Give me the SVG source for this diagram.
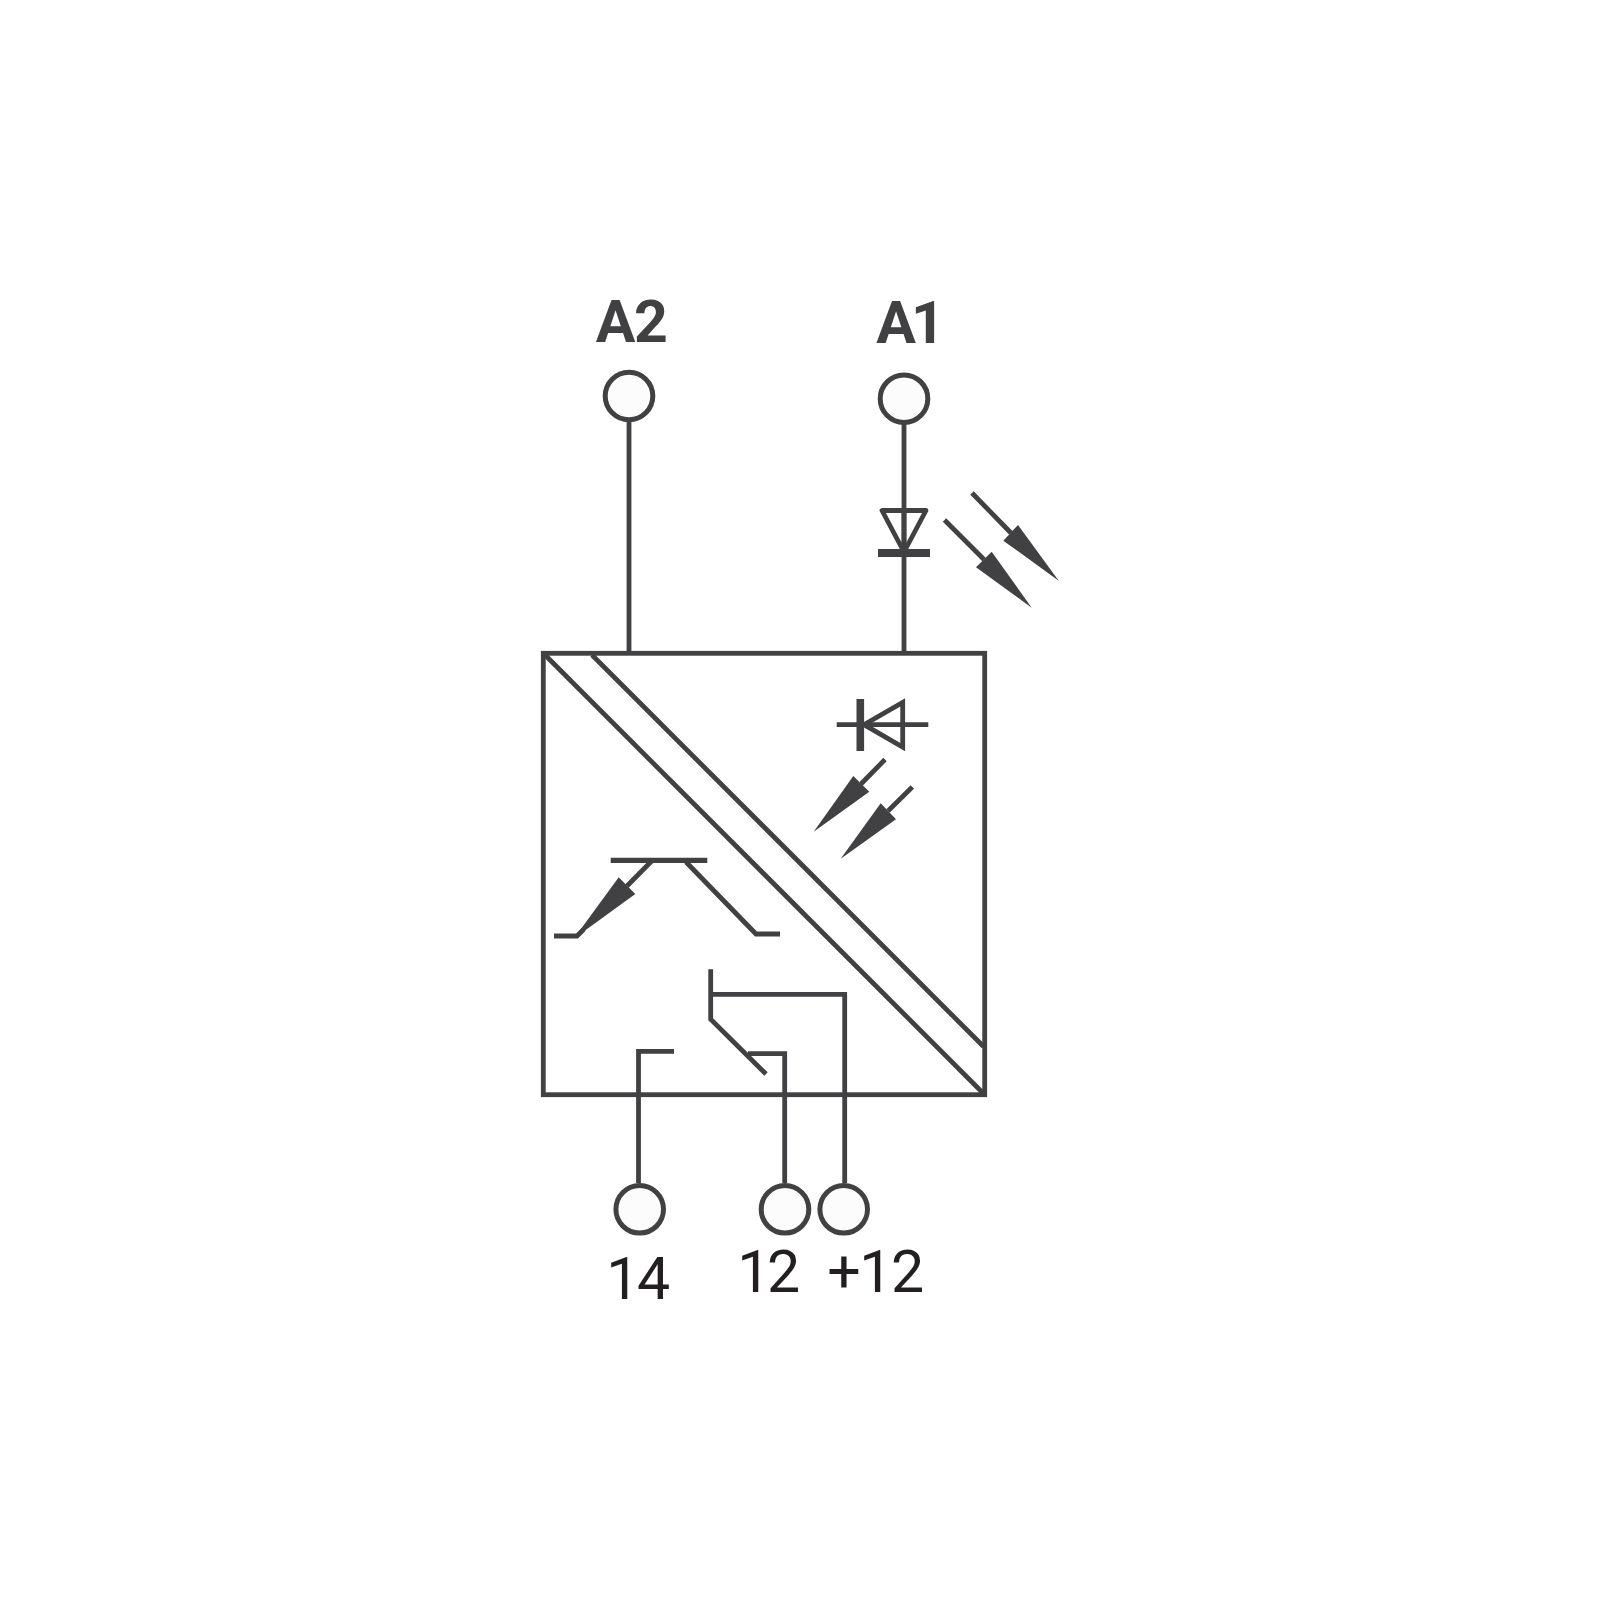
<svg xmlns="http://www.w3.org/2000/svg" width="1600" height="1600" viewBox="0 0 1600 1600">
<style>
.l{fill:none;stroke:#414042;stroke-width:4.8;stroke-linejoin:miter}
.h{fill:#414042;stroke:none}
.t{fill:#fcfcfc;stroke:#414042;stroke-width:5}
.b{font-family:Roboto,"Liberation Sans",Arial,sans-serif;font-weight:700;font-size:59px;fill:#414042;text-anchor:middle}
.n{font-family:Roboto,"Liberation Sans",Arial,sans-serif;font-size:59px;fill:#231f20;text-anchor:middle}
</style>
<rect width="1600" height="1600" fill="#ffffff"/>
<g id="connectors">
<path class="l" d="M629 420V653"/>
<path class="l" d="M904 422V653"/>
<path class="l" d="M638.500 1183V1051.300H674"/>
<path class="l" d="M748 1053.700H784.700V1183"/>
<path class="l" d="M710.700 994.300H844.700V1183"/>
</g>
<g id="box">
<rect class="l" x="543.300" y="653.300" width="441.400" height="441.400"/>
<path class="l" d="M543.300 653.300L984.700 1094.700"/>
<path class="l" d="M592 655L983.500 1046.500"/>
</g>
<g id="led">
<path class="l" d="M882 510.500H926L904 552Z" style="stroke-linejoin:round"/>
<path class="l" d="M904 510V552"/>
<rect class="h" x="878" y="549" width="52" height="8"/>
<path class="l" d="M972 493L1011 533"/>
<path class="h" d="M1058.700 580.700L1018 525L1003.300 540.700Z"/>
<path class="l" d="M944.500 520L984 559.500"/>
<path class="h" d="M1031.700 607.700L991.700 551.700L976 567.300Z"/>
</g>
<g id="photodiode">
<rect class="h" x="856.500" y="699" width="7.600" height="52"/>
<path class="l" d="M836.700 724.700H928.300"/>
<path class="l" d="M902.700 702.500V747L864 724.700Z"/>
<path class="l" d="M885 759.500L861 784"/>
<path class="h" d="M813.700 831.700L853.300 776L869.300 791.700Z"/>
<path class="l" d="M912.300 787L888 811"/>
<path class="h" d="M840.700 858.700L880.700 803.300L896 819.300Z"/>
</g>
<g id="transistor">
<path class="l" d="M610.700 860.300H707.300" style="stroke-width:5.200"/>
<path class="l" d="M651.700 861L627 886"/>
<path class="h" d="M574 938.500L618.700 877.300L635.300 894Z"/>
<path class="l" d="M554 936H577L584 929"/>
<path class="l" d="M686 862L756 934H780"/>
</g>
<g id="contact">
<path class="l" d="M710.700 969.300V1019.300L766 1074"/>
</g>
<g id="terminal-a2"><circle class="t" cx="629" cy="396" r="23.800"/><text class="b" x="631" y="341.700" letter-spacing="-1.500">A2</text></g>
<g id="terminal-a1"><circle class="t" cx="904" cy="398.700" r="23.800"/><text class="b" x="908" y="343.300" letter-spacing="-5">A1</text></g>
<g id="terminal-14"><circle class="t" cx="639.700" cy="1209.300" r="23.800"/><text class="n" x="637" y="1299.300" letter-spacing="-2.500">14</text></g>
<g id="terminal-12"><circle class="t" cx="785" cy="1209.300" r="23.800"/><text class="n" x="767" y="1292.300" letter-spacing="-3.500">12</text></g>
<g id="terminal-plus12"><circle class="t" cx="843.700" cy="1209.300" r="23.800"/><text class="n" x="875" y="1292.300" letter-spacing="-1.500">+12</text></g>
</svg>
